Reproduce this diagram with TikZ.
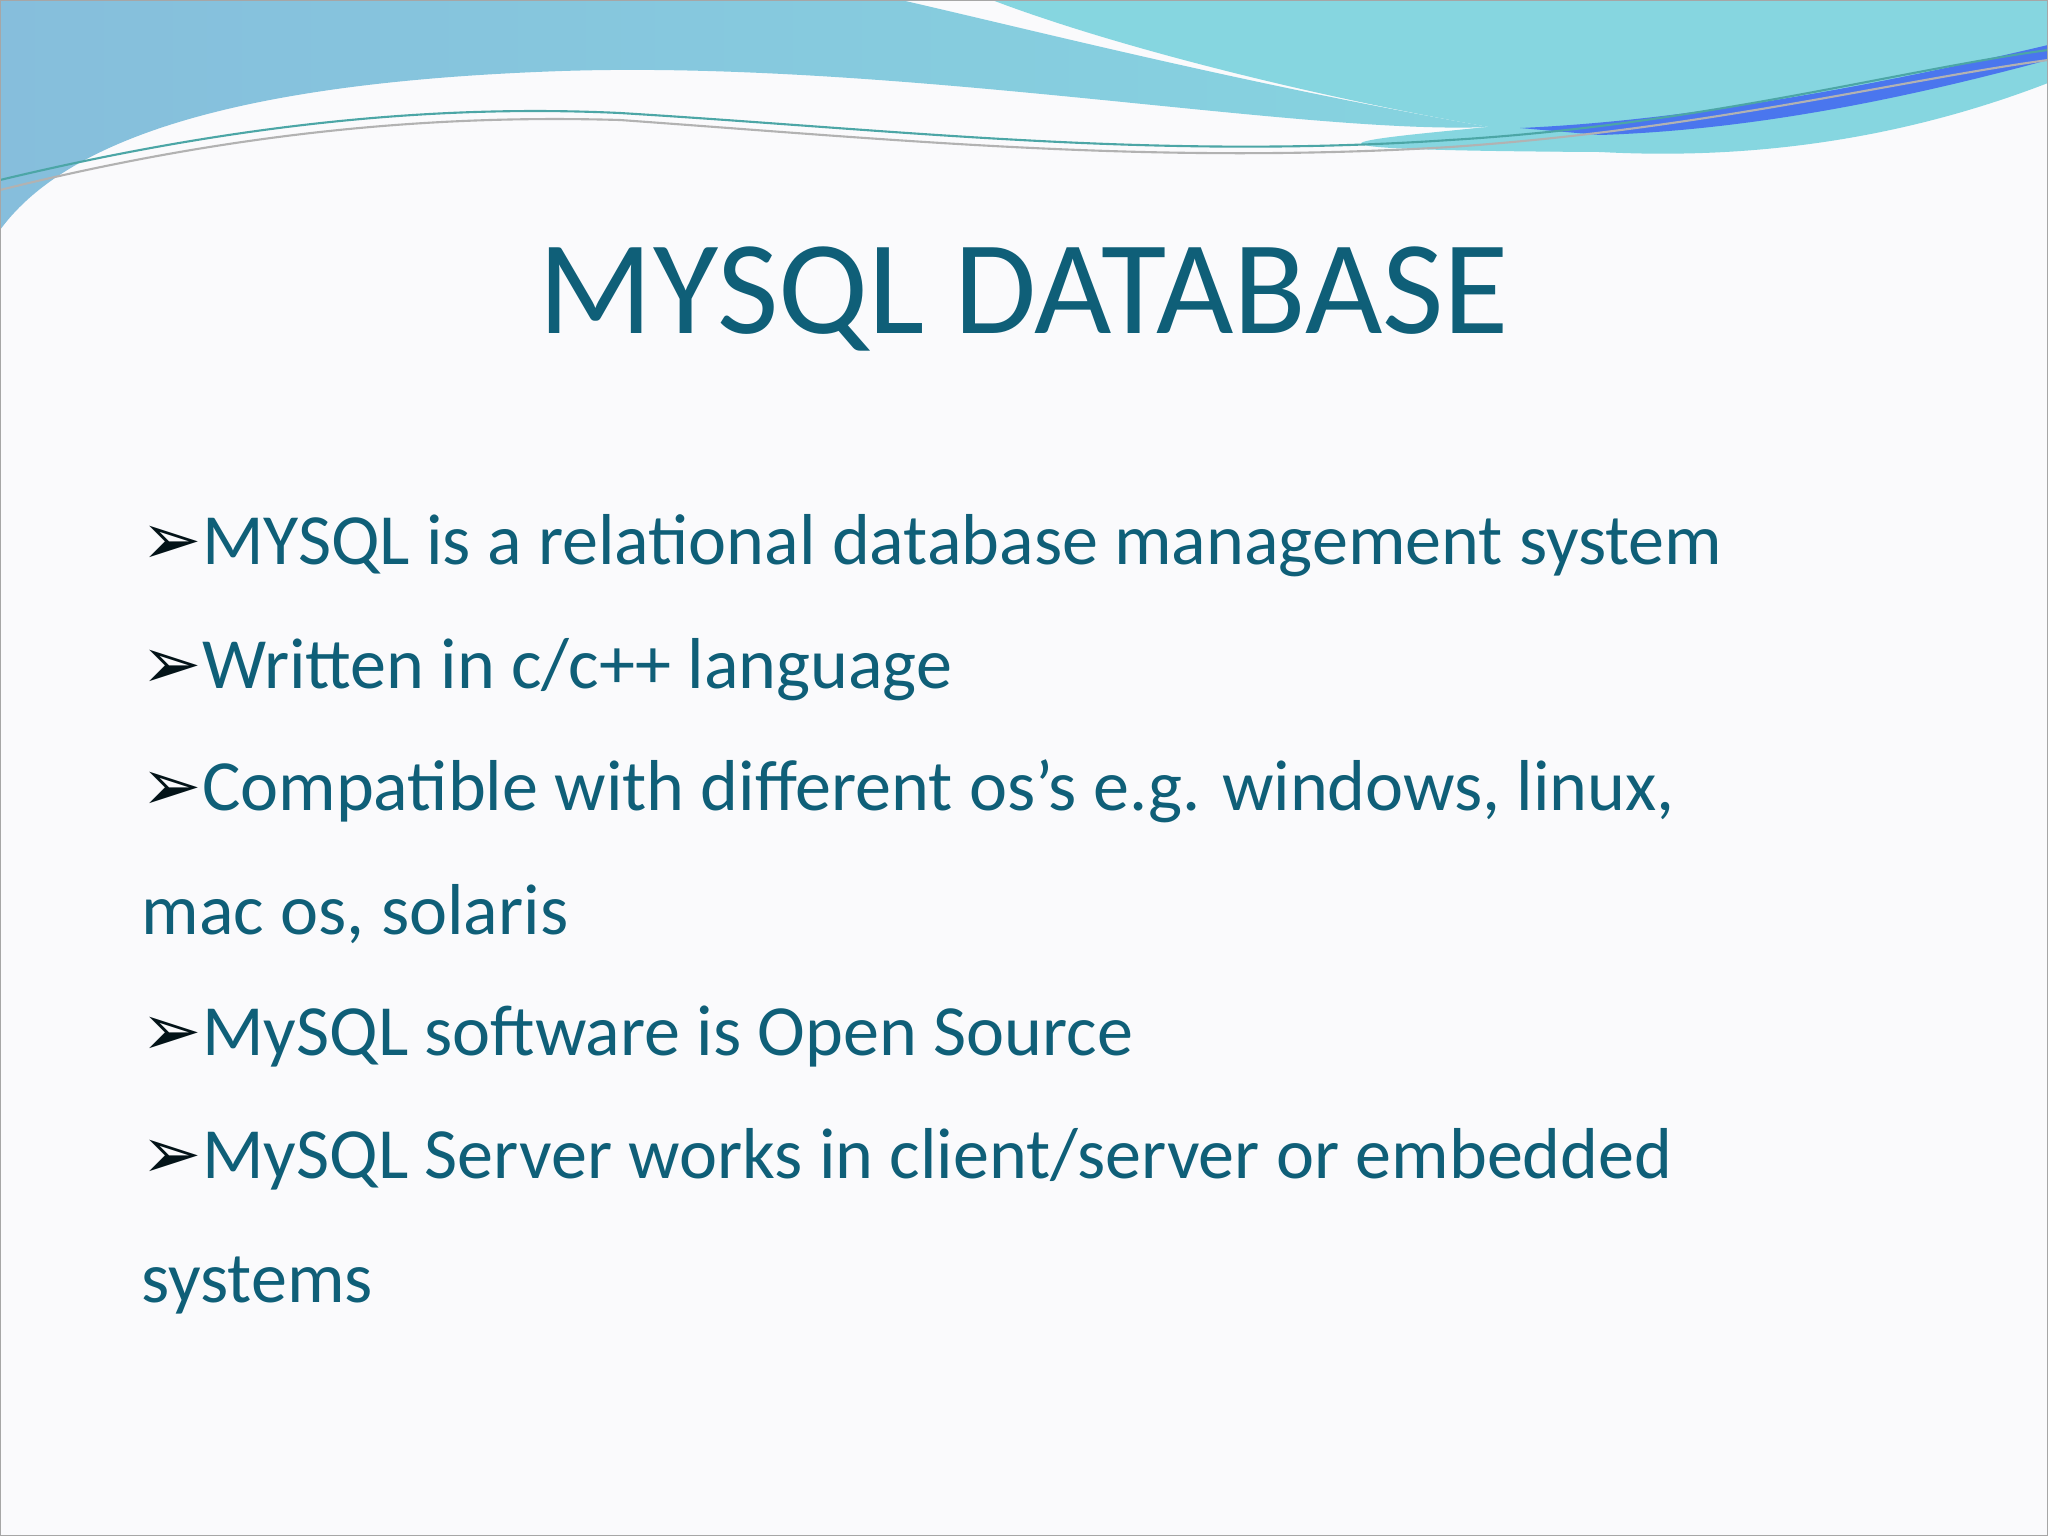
\documentclass[tikz,border=0pt]{standalone}
\usepackage{fontspec}
\setmainfont{Carlito}
\newfontfamily\symf{DejaVu Sans}
\definecolor{teal1}{HTML}{0F5F78}
\definecolor{bluea}{HTML}{86BEDC}
\definecolor{blueb}{HTML}{86D6E0}
\definecolor{bg}{HTML}{FAFAFC}
\begin{document}
\begin{tikzpicture}[x=0.01cm,y=-0.01cm,
  bul/.style={anchor=base west,inner sep=0pt,font=\fontsize{20.5pt}{24pt}\selectfont,text=teal1}]
\useasboundingbox (0,0) rectangle (2048,1536);
\fill[bg] (0,0) rectangle (2048,1536);
% left blue region
\shade[left color=bluea,right color=blueb!90!bluea]
 (0,0) -- (901,0) .. controls (1045,33) and (1240,83) .. (1489,127)
 .. controls (1300,135) and (900,60) .. (562,71)
 .. controls (300,80) and (80,120) .. (0,230) -- cycle;
% right cyan region
\fill[blueb] (992,0) -- (2048,0) -- (2048,83) .. controls (1900,140) and (1750,160) .. (1600,152)
 .. controls (1450,150) and (1350,140) .. (1489,127)
 .. controls (1306,95) and (1110,45) .. (992,0) -- cycle;
\fill[blueb] (1489,127) .. controls (1350,140) and (1250,150) .. (1600,152) -- (1650,130) -- cycle;
\fill[blue!45!blueb] (1520,128) .. controls (1700,120) and (1900,80) .. (2048,45) -- (2048,60) .. controls (1900,100) and (1750,130) .. (1600,135) -- cycle;
% thin lines
\draw[teal!70,line width=0.6pt] (0,180) .. controls (250,120) and (450,105) .. (620,113) .. controls (900,130) and (1150,160) .. (1450,140) .. controls (1700,125) and (1900,70) .. (2048,50);
\draw[gray!60,line width=0.6pt] (0,190) .. controls (250,128) and (450,115) .. (620,120) .. controls (900,140) and (1150,165) .. (1450,147) .. controls (1700,130) and (1900,80) .. (2048,60);
\draw[gray!70,line width=0.8pt] (0,0) rectangle (2048,1536);
\node[anchor=base,inner sep=0pt,font=\fontsize{38pt}{44pt}\selectfont,text=teal1] (title) at (1024,333) {MYSQL DATABASE};
\node[bul] (b1) at (141,564) {{\symf\color{black!80!teal1}➢}MYSQL is a relational database management system};
\node[bul] (b2) at (141,688) {{\symf\color{black!80!teal1}➢}Written in c/c++ language};
\node[bul] (b3) at (141,810) {{\symf\color{black!80!teal1}➢}Compatible with different os’s e.g. windows, linux,};
\node[bul] (b3b) at (141,934) {mac os, solaris};
\node[bul] (b4) at (141,1055) {{\symf\color{black!80!teal1}➢}MySQL software is Open Source};
\node[bul] (b5) at (141,1178) {{\symf\color{black!80!teal1}➢}MySQL Server works in client/server or embedded};
\node[bul] (b5b) at (141,1302) {systems};
\end{tikzpicture}
\end{document}
